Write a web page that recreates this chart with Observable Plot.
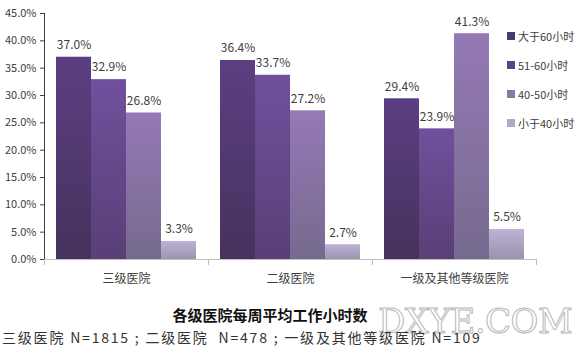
<!DOCTYPE html>
<html><head><meta charset="utf-8">
<script src="https://cdn.jsdelivr.net/npm/d3@7"></script>
<script src="https://cdn.jsdelivr.net/npm/@observablehq/plot@0.6"></script>
<style>
body{margin:0;background:#fff;font-family:"Noto Sans CJK SC","Noto Sans",sans-serif;}
#wrap{position:relative;width:580px;height:360px;overflow:hidden;}
#legend{position:absolute;left:507px;top:28px;font-size:11px;color:#404040;}
#legend div{height:29px;display:flex;align-items:flex-start;}
#legend span.sw{display:inline-block;width:8px;height:8px;margin:4px 3px 0 0;}
#title{position:absolute;left:0;width:540px;top:304px;text-align:center;font-weight:bold;font-size:15px;color:#111;}
#sub{position:absolute;left:2px;top:327px;font-size:14px;letter-spacing:1.8px;color:#333;white-space:pre;}
#wm{position:absolute;left:378px;top:301px;font-family:"DejaVu Serif",serif;font-size:34px;color:#fff;-webkit-text-stroke:1px #b8b8b8;letter-spacing:-0.5px;white-space:nowrap;}
</style></head>
<body><div id="wrap"><div id="chart"></div><div id="legend"></div>
<div id="wm">DXYE.COM</div>
<div id="title"></div><div id="sub"></div></div>
<script>
const groups = ["三级医院", "二级医院", "一级及其他等级医院"];
const series = ["大于60小时", "51-60小时", "40-50小时", "小于40小时"];
const values = [
  [37.0, 32.9, 26.8, 3.3],
  [36.4, 33.7, 27.2, 2.7],
  [29.4, 23.9, 41.3, 5.5]
];
const yTicks = [0, 5, 10, 15, 20, 25, 30, 35, 40, 45];
const titleText = "各级医院每周平均工作小时数";
const subText = "三级医院 N=1815 ; 二级医院  N=478 ; 一级及其他等级医院 N=109";
const gradTop = ["#5b3f82", "#70509d", "#9579b6", "#beb2d6"];
const gradBottom = ["#46325d", "#593f77", "#766a8e", "#9c93ad"];
const legendColors = ["#4e3870", "#5e4184", "#8a78a8", "#b0a8c4"];

const data = [];
groups.forEach((g, i) => series.forEach((s, j) => data.push({group: g, series: s, value: values[i][j]})));

const fills = series.map((s, j) => `url(#grad${j})`);

const plot = Plot.plot({
  width: 580, height: 295,
  marginLeft: 44, marginRight: 44, marginTop: 13, marginBottom: 36,
  style: {fontFamily: '"Noto Sans CJK SC","Noto Sans",sans-serif', fontSize: "11px", color: "#404040", background: "#fff"},
  fx: {domain: groups, padding: 0, label: null, axis: "bottom", tickSize: 0, tickPadding: 15},
  x: {domain: series, axis: null, paddingInner: 0, paddingOuter: 0.31},
  y: {domain: [0, 45], ticks: yTicks, tickFormat: d => d.toFixed(1) + "%", label: null, tickSize: 4, tickPadding: 4, line: true},
  color: {domain: series, range: fills},
  marks: [
    Plot.barY(data, {fx: "group", x: "series", y: "value", fill: "series"}),
    Plot.text(data, {fx: "group", x: "series", y: "value", text: d => d.value.toFixed(1) + "%", dy: -12, fontSize: 12, fill: "#404040"}),
    Plot.ruleY([0], {stroke: "#bfbfbf"}),
    Plot.frame({anchor: "left", stroke: "#bfbfbf", insetTop: 246, insetBottom: -5}),
    Plot.frame({anchor: "right", stroke: "#bfbfbf", insetTop: 246, insetBottom: -5})
  ]
});

const ns = "http://www.w3.org/2000/svg";
const defs = document.createElementNS(ns, "defs");
series.forEach((s, j) => {
  const lg = document.createElementNS(ns, "linearGradient");
  lg.setAttribute("id", "grad" + j);
  lg.setAttribute("x1", "0"); lg.setAttribute("y1", "0");
  lg.setAttribute("x2", "0"); lg.setAttribute("y2", "1");
  [[0, gradTop[j]], [1, gradBottom[j]]].forEach(([o, c]) => {
    const st = document.createElementNS(ns, "stop");
    st.setAttribute("offset", o); st.setAttribute("stop-color", c);
    lg.appendChild(st);
  });
  defs.appendChild(lg);
});
plot.insertBefore(defs, plot.firstChild);
plot.querySelectorAll('[aria-label="y-axis tick"], [aria-label="y-axis line"]').forEach(e => e.setAttribute("stroke", "#bfbfbf"));
plot.querySelectorAll('[aria-label="fx-axis tick label"]').forEach(e => e.setAttribute("font-size", "12"));
document.getElementById("chart").appendChild(plot);

const leg = document.getElementById("legend");
series.forEach((s, j) => {
  const d = document.createElement("div");
  d.innerHTML = `<span class="sw" style="background:${legendColors[j]}"></span>${s}`;
  leg.appendChild(d);
});
document.getElementById("title").textContent = titleText;
document.getElementById("sub").textContent = subText;
</script></body></html>
